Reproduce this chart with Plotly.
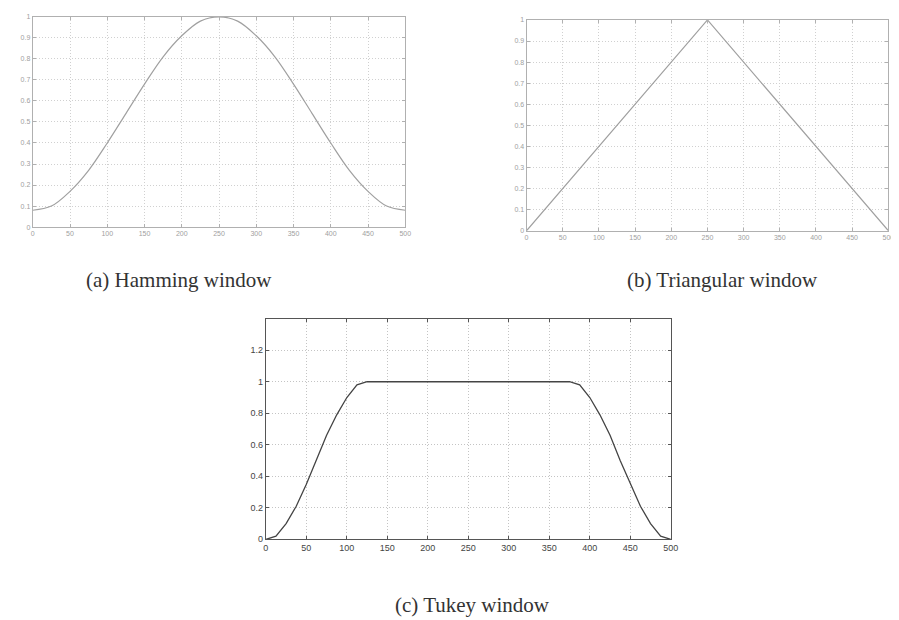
import plotly.graph_objects as go

# ---- data ----
ham_x = [0, 25, 50, 75, 100, 125, 150, 175, 200, 225, 250,
         275, 300, 325, 350, 375, 400, 425, 450, 475, 500]
ham_y = [0.08, 0.10, 0.17, 0.27, 0.40, 0.54, 0.68, 0.81, 0.91, 0.98, 1.0,
         0.98, 0.91, 0.81, 0.68, 0.54, 0.40, 0.27, 0.17, 0.10, 0.08]

tri_x = [0, 250, 500]
tri_y = [0.0, 1.0, 0.0]

tuk_x = [0, 12.5, 25, 37.5, 50, 62.5, 75, 87.5, 100, 112.5, 125,
         250, 375, 387.5, 400, 412.5, 425, 437.5, 450, 462.5, 475, 487.5, 500]
tuk_y = [0.0, 0.02, 0.10, 0.21, 0.35, 0.50, 0.66, 0.79, 0.90, 0.98, 1.0,
         1.0, 1.0, 0.98, 0.90, 0.79, 0.66, 0.50, 0.35, 0.21, 0.10, 0.02, 0.0]

x_ticks = [0, 50, 100, 150, 200, 250, 300, 350, 400, 450, 500]
y_ticks_01 = [0, 0.1, 0.2, 0.3, 0.4, 0.5, 0.6, 0.7, 0.8, 0.9, 1]
y_ticks_tuk = [0, 0.2, 0.4, 0.6, 0.8, 1, 1.2]

captions = ["(a) Hamming window", "(b) Triangular window", "(c) Tukey window"]

fig = go.Figure()

fig.add_trace(go.Scatter(x=ham_x, y=ham_y, mode="lines", line=dict(color="#a0a0a0", width=1.2, shape="spline"),
                         xaxis="x", yaxis="y", showlegend=False))
fig.add_trace(go.Scatter(x=tri_x, y=tri_y, mode="lines", line=dict(color="#a0a0a0", width=1.2),
                         xaxis="x2", yaxis="y2", showlegend=False))
fig.add_trace(go.Scatter(x=tuk_x, y=tuk_y, mode="lines", line=dict(color="#444444", width=1.3),
                         xaxis="x3", yaxis="y3", showlegend=False))

def ax(domain, anchor, rng, ticks, linecolor, gridcolor, fontcolor, fsize):
    return dict(domain=domain, anchor=anchor, range=rng, tickvals=ticks,
                showline=True, mirror="ticks", linecolor=linecolor, linewidth=1,
                ticks="inside", ticklen=3, tickcolor=linecolor,
                showgrid=True, gridcolor=gridcolor, griddash="1px,2px", gridwidth=1,
                zeroline=False, tickfont=dict(family="Liberation Sans, Arial", size=fsize, color=fontcolor))

light_line, light_grid, light_font = "#b0b0b0", "#d0d0d0", "#a0a0a0"
dark_line, dark_grid, dark_font = "#555555", "#c4c4c4", "#444444"

fig.update_layout(
    width=899, height=620,
    margin=dict(l=0, r=0, t=0, b=0),
    paper_bgcolor="white", plot_bgcolor="white",
    xaxis=ax([0.0245, 0.444], "y", [0, 500], x_ticks, light_line, light_grid, light_font, 7),
    yaxis=ax([0.648, 0.992], "x", [0, 1], y_ticks_01, light_line, light_grid, light_font, 7),
    xaxis2=ax([0.5806, 0.988], "y2", [0, 500], x_ticks, light_line, light_grid, light_font, 7),
    yaxis2=ax([0.642, 0.987], "x2", [0, 1], y_ticks_01, light_line, light_grid, light_font, 7),
    xaxis3=ax([0.287, 0.743], "y3", [0, 500], x_ticks, dark_line, dark_grid, dark_font, 9),
    yaxis3=ax([0.137, 0.498], "x3", [0, 1.4], y_ticks_tuk, dark_line, dark_grid, dark_font, 9),
)

cap_pos = [(170 / 899, 1 - 272 / 620), (720 / 899, 1 - 272 / 620), (467 / 899, 1 - 602 / 620)]
for text, (px, py) in zip(captions, cap_pos):
    fig.add_annotation(text=text, x=px, y=py, xref="paper", yref="paper", showarrow=False,
                       xanchor="center", yanchor="middle",
                       font=dict(family="Liberation Serif, Times New Roman", size=21, color="#333333"))

fig.write_html("out.html")
